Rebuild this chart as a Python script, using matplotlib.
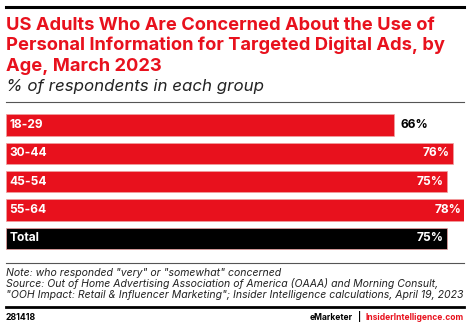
import matplotlib
matplotlib.use('Agg')
import matplotlib.pyplot as plt
from matplotlib.lines import Line2D

# data
groups = ['18-29', '30-44', '45-54', '55-64', 'Total']
values = [66, 76, 75, 78, 75]
bar_colors = ['#e8111d', '#e8111d', '#e8111d', '#e8111d', '#000000']

title_lines = ['US Adults Who Are Concerned About the Use of',
               'Personal Information for Targeted Digital Ads, by',
               'Age, March 2023']
subtitle = '% of respondents in each group'
notes = ['Note: who responded "very" or "somewhat" concerned',
         'Source: Out of Home Advertising Association of America (OAAA) and Morning Consult,',
         '"OOH Impact: Retail & Influencer Marketing"; Insider Intelligence calculations, April 19, 2023']

plt.rcParams['font.family'] = ['Inter', 'DejaVu Sans']

W, H = 470, 327
fig = plt.figure(figsize=(W / 100, H / 100), dpi=100)

def fx(px):
    return px / W

def fy(py):
    return 1 - py / H

def hline(y, x0, x1, color, lw):
    fig.add_artist(Line2D([fx(x0), fx(x1)], [fy(y), fy(y)], color=color,
                          linewidth=lw, transform=fig.transFigure))

red = '#e8111d'

# header
hline(6.5, 6, 464, 'black', 2.2)
for k, line in enumerate(title_lines):
    fig.text(fx(6), fy(29.5 + k * 20.7), line, color=red, fontsize=13.2,
             fontweight='bold', va='baseline', ha='left')
fig.text(fx(6), fy(91), subtitle, color='#222222', fontsize=12.2,
         style='italic', va='baseline', ha='left')
hline(102, 6, 464, '#555555', 0.8)

# bars
top_px, bot_px = 110.85, 252.5
ax = fig.add_axes([fx(6), fy(bot_px), fx(464.3) - fx(6), (bot_px - top_px) / H])
y = list(range(len(groups)))
ax.barh(y, values, height=0.75, color=bar_colors, edgecolor='#f0a0a0',
        linewidth=0.5)
ax.set_xlim(0, 78)
ax.set_ylim(len(groups) - 0.5, -0.5)
ax.axis('off')

for i, (g, v) in enumerate(zip(groups, values)):
    ax.text(0.6, i, g, color='white', fontsize=8.6, fontweight='bold',
            va='center', ha='left')
    if v < 70:
        ax.text(v + 1.2, i, f'{v}%', color='black', fontsize=8.6,
                fontweight='bold', va='center', ha='left')
    else:
        ax.text(v - 0.5, i, f'{v}%', color='white', fontsize=8.6,
                fontweight='bold', va='center', ha='right')

# footer
hline(262.5, 6, 464, '#555555', 0.8)
for k, line in enumerate(notes):
    fig.text(fx(6), fy(276 + k * 11.2), line, color='#222222', fontsize=7.55,
             style='italic', va='baseline', ha='left')
hline(306.8, 6, 464, 'black', 2.0)
fig.text(fx(6), fy(320), '281418', color='black', fontsize=6.3,
         fontweight='bold', va='baseline', ha='left')
fig.text(fx(464), fy(320), 'InsiderIntelligence.com', color=red,
         fontsize=6.1, fontweight='bold', va='baseline', ha='right')
fig.text(fx(360), fy(320), '|', color='black', fontsize=6.1,
         fontweight='bold', va='baseline', ha='center')
fig.text(fx(353), fy(320), 'eMarketer', color='black', fontsize=6.1,
         fontweight='bold', va='baseline', ha='right')

fig.savefig('out.png', dpi=100)
